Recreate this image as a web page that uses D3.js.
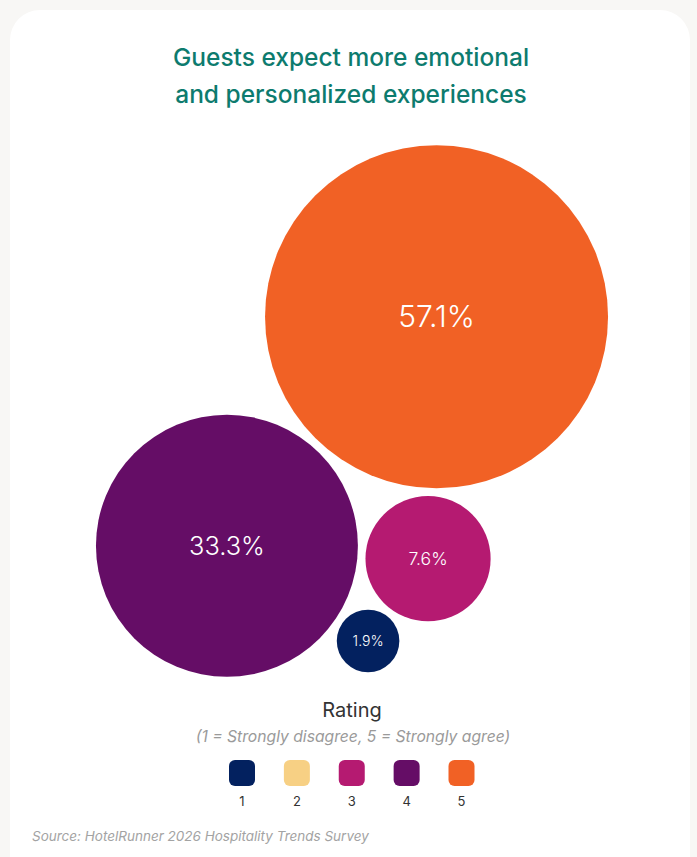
<!DOCTYPE html>
<html>
<head>
<meta charset="utf-8">
<script src="https://cdn.jsdelivr.net/npm/d3@7"></script>
<style>
  html, body { margin: 0; padding: 0; background: #f8f7f5; }
  svg { display: block; font-family: "Inter", "Open Sans", sans-serif; }
</style>
</head>
<body>
<svg id="chart" width="697" height="857"></svg>
<script>
// Survey answers: share of respondents per rating (percent)
const ratings = ["1", "2", "3", "4", "5"];
const shares = [1.9, 0, 7.6, 33.3, 57.1];
const colors = ["#03215f", "#f7d084", "#b51a71", "#650d66", "#f16125"];
const titleLines = ["Guests expect more emotional", "and personalized experiences"];
const legendTitle = "Rating";
const legendNote = "(1 = Strongly disagree, 5 = Strongly agree)";
const sourceText = "Source: HotelRunner 2026 Hospitality Trends Survey";
// order in which bubbles are handed to the sibling packer
const packOrder = ["4", "3", "5", "1"];

const W = 697, H = 857;
const svg = d3.select("#chart");

// card
svg.append("rect").attr("x", 10).attr("y", 10).attr("width", 680).attr("height", 900)
  .attr("rx", 30).attr("fill", "#ffffff");

// title
svg.append("g").selectAll("text").data(titleLines).join("text")
  .attr("x", 351).attr("y", (d, i) => 66 + i * 37)
  .attr("text-anchor", "middle")
  .attr("font-size", 24.5).attr("font-weight", 500)
  .attr("fill", "#0d7b6e")
  .text(d => d);

// bubbles
const rScale = d3.scaleSqrt().domain([0, d3.max(shares)]).range([0, 171.5]);
const color = d3.scaleOrdinal().domain(ratings).range(colors);
const valueOf = k => shares[ratings.indexOf(k)];
const gap = 8;

const nodes = packOrder
  .filter(k => valueOf(k) > 0)
  .map(k => ({ key: k, value: valueOf(k), rr: rScale(valueOf(k)), r: rScale(valueOf(k)) + gap / 2 }));
d3.packSiblings(nodes);

// orient the packed group: first pair slightly tilted, third bubble above
const [n0, n1, n2] = nodes;
const cross = (n1.x - n0.x) * (n2.y - n0.y) - (n1.y - n0.y) * (n2.x - n0.x);
if (cross > 0) nodes.forEach(n => { n.y = -n.y; });
const targetAngle = 0.064;
const curAngle = Math.atan2(n1.y - n0.y, n1.x - n0.x);
const rot = targetAngle - curAngle;
nodes.forEach(n => {
  const x = n.x * Math.cos(rot) - n.y * Math.sin(rot);
  const y = n.x * Math.sin(rot) + n.y * Math.cos(rot);
  n.x = x; n.y = y;
});
const x0 = d3.min(nodes, n => n.x - n.rr), x1 = d3.max(nodes, n => n.x + n.rr);
const y0 = d3.min(nodes, n => n.y - n.rr), y1 = d3.max(nodes, n => n.y + n.rr);
const cx = 352, cy = 411;
const dx = cx - (x0 + x1) / 2, dy = cy - (y0 + y1) / 2;

const positive = shares.filter(v => v > 0);
const fontScale = d3.scaleSqrt().domain([d3.min(positive), d3.max(positive)]).range([14, 30]);

const bubble = svg.append("g").selectAll("g").data(nodes).join("g")
  .attr("transform", d => `translate(${d.x + dx},${d.y + dy})`);
bubble.append("circle")
  .attr("r", d => d.rr)
  .attr("fill", d => color(d.key));
bubble.append("text")
  .attr("text-anchor", "middle")
  .attr("dy", "0.35em")
  .attr("fill", "#ffffff")
  .attr("font-weight", 300)
  .attr("font-size", d => fontScale(d.value))
  .text(d => d.value.toFixed(1) + "%");

// legend
svg.append("text").attr("x", 352).attr("y", 717).attr("text-anchor", "middle")
  .attr("font-size", 20).attr("fill", "#333333").text(legendTitle);
svg.append("text").attr("x", 353).attr("y", 742).attr("text-anchor", "middle")
  .attr("font-size", 15.7).attr("font-style", "italic").attr("fill", "#9a9a9a").text(legendNote);

const lx = d3.scalePoint().domain(ratings).range([242, 461.5]);
const item = svg.append("g").selectAll("g").data(ratings).join("g")
  .attr("transform", d => `translate(${lx(d)},773)`);
item.append("rect").attr("x", -13).attr("y", -13).attr("width", 26).attr("height", 26)
  .attr("rx", 6).attr("fill", d => color(d));
item.append("text").attr("y", 33).attr("text-anchor", "middle")
  .attr("font-size", 13).attr("fill", "#333333").text(d => d);

// source
svg.append("text").attr("x", 32).attr("y", 841)
  .attr("font-size", 13.5).attr("font-style", "italic").attr("fill", "#a3a3a3").text(sourceText);
</script>
</body>
</html>
